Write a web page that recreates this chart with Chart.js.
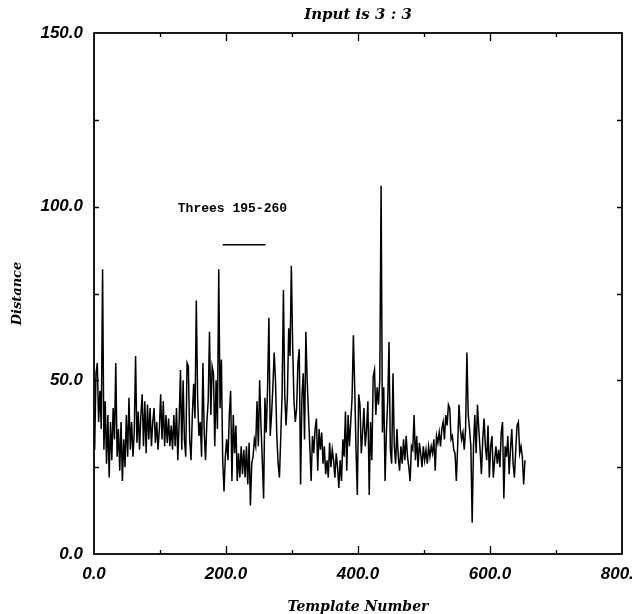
<!DOCTYPE html>
<html>
<head>
<meta charset="utf-8">
<script src="https://cdn.jsdelivr.net/npm/chart.js@4.4.0/dist/chart.umd.min.js"></script>
<style>
  html, body { margin: 0; padding: 0; background: #fff; }
</style>
</head>
<body>
<canvas id="chart" width="632" height="614"></canvas>
<script>
// template numbers: every 2nd template, starting at 1
var firstTemplate = 1;
var templateStep = 2;

var distances = [
    // 1 - 101
    30, 52, 55, 38, 47, 36, 82, 30, 44, 26, 40, 22, 38, 27, 42, 33, 55, 28, 36, 24,
    38, 21, 33, 25, 40, 28, 45, 30, 38, 28, 35, 57, 32, 41, 30, 40, 46, 31, 44, 29,
    43, 33, 42, 31, 38, 42, 32, 38, 30, 36, 46,
    // 103 - 213
    33, 44, 31, 40, 32, 39, 31, 37, 30, 40, 31, 42, 27, 38, 53, 30, 50, 33, 28, 55,
    54, 33, 27, 40, 49, 39, 73, 45, 34, 38, 28, 55, 35, 27, 38, 44, 64, 40, 54, 52,
    31, 50, 36, 82, 42, 56, 27, 18, 28, 33, 27, 40, 47, 21, 40, 29,
    // 215 - 315
    37, 21, 29, 22, 31, 23, 30, 22, 31, 20, 32, 14, 26, 28, 33, 31, 44, 31, 50, 37,
    27, 16, 45, 35, 48, 68, 34, 40, 48, 58, 50, 34, 26, 22, 34, 46, 76, 46, 37, 45,
    65, 57, 83, 60, 44, 38, 42, 55, 59, 20, 45,
    // 317 - 419
    52, 33, 64, 50, 40, 31, 21, 34, 29, 36, 39, 24, 36, 30, 35, 26, 31, 23, 27, 22,
    32, 25, 30, 27, 22, 29, 25, 19, 27, 21, 33, 28, 41, 24, 40, 31, 38, 45, 63, 48,
    30, 17, 46, 43, 29, 35, 42, 31, 36, 44, 17, 38,
    // 421 - 523
    27, 51, 53, 40, 48, 43, 50, 106, 35, 48, 21, 35, 44, 61, 30, 26, 52, 31, 26, 36,
    28, 24, 31, 26, 33, 27, 34, 28, 25, 21, 31, 30, 40, 27, 34, 25, 32, 29, 25, 31,
    27, 30, 26, 31, 28, 31, 29, 33, 24, 34, 32, 35,
    // 525 - 653
    31, 36, 38, 33, 40, 37, 43, 42, 33, 34, 30, 29, 21, 31, 43, 36, 33, 35, 30, 36,
    58, 40, 36, 31, 9, 31, 40, 29, 43, 36, 30, 23, 33, 39, 31, 27, 37, 22, 31, 34,
    22, 27, 31, 26, 30, 25, 35, 38, 16, 31, 28, 34, 23, 30, 36, 26, 22, 30, 37, 38,
    29, 31, 28, 20, 27
];

// the "Threes" marker
var markerRange = [195, 260];
var markerLevel = 89;
var markerLabel = 'Threes 195-260';

var xTickMarks = [100, 200, 300, 400, 500, 600, 700];
var yTickMarks = [25, 50, 75, 100, 125];

var points = distances.map(function (d, i) {
    return { x: firstTemplate + i * templateStep, y: d };
});

var framePlugin = {
    id: 'frame',
    afterDraw: function (chart) {
        var ctx = chart.ctx;
        var a = chart.chartArea;
        var xs = chart.scales.x;
        var ys = chart.scales.y;
        ctx.save();
        ctx.strokeStyle = '#000';
        ctx.lineWidth = 1.8;
        ctx.strokeRect(a.left, a.top, a.right - a.left, a.bottom - a.top);

        // inward ticks on all four sides
        ctx.lineWidth = 1.3;
        ctx.beginPath();
        xTickMarks.forEach(function (v) {
            var px = Math.round(xs.getPixelForValue(v)) + 0.5;
            var len = v % 200 === 0 ? 8 : 4;
            ctx.moveTo(px, a.bottom); ctx.lineTo(px, a.bottom - len);
            ctx.moveTo(px, a.top); ctx.lineTo(px, a.top + len);
        });
        yTickMarks.forEach(function (v) {
            var py = Math.round(ys.getPixelForValue(v)) + 0.5;
            var len = 5;
            ctx.moveTo(a.left, py); ctx.lineTo(a.left + len, py);
            ctx.moveTo(a.right, py); ctx.lineTo(a.right - len, py);
        });
        ctx.stroke();

        ctx.fillStyle = '#000';
        ctx.textAlign = 'center';
        ctx.textBaseline = 'middle';
        ctx.font = 'italic bold 15px "DejaVu Serif"';
        ctx.fillText('Input is 3 : 3', (a.left + a.right) / 2, 15);

        ctx.font = 'italic bold 14px "DejaVu Serif"';
        ctx.fillText('Template Number', (a.left + a.right) / 2, 607);

        ctx.save();
        ctx.translate(18, (a.top + a.bottom) / 2);
        ctx.rotate(-Math.PI / 2);
        ctx.font = 'italic bold 13px "DejaVu Serif"';
        ctx.fillText('Distance', 0, 0);
        ctx.restore();

        ctx.textAlign = 'left';
        ctx.font = 'bold 13px "Liberation Mono"';
        ctx.fillText(markerLabel, xs.getPixelForValue(127), ys.getPixelForValue(99.3));
        ctx.restore();
    }
};

var tickFont = { family: 'Liberation Sans', size: 17, weight: 'bold', style: 'italic' };

new Chart(document.getElementById('chart'), {
    type: 'line',
    data: {
        datasets: [{
            data: points,
            borderColor: '#000',
            borderWidth: 1.5,
            pointRadius: 0,
            tension: 0
        }, {
            data: [{ x: markerRange[0], y: markerLevel }, { x: markerRange[1], y: markerLevel }],
            borderColor: '#000',
            borderWidth: 1.5,
            pointRadius: 0
        }]
    },
    options: {
        responsive: false,
        animation: false,
        layout: { padding: { top: 33, right: 10, left: 0, bottom: 0 } },
        plugins: { legend: { display: false }, tooltip: { enabled: false } },
        scales: {
            x: {
                type: 'linear',
                min: 0,
                max: 800,
                grid: { display: false, drawTicks: false },
                border: { display: false },
                ticks: {
                    stepSize: 200,
                    maxRotation: 0,
                    autoSkip: false,
                    padding: 10,
                    color: '#000',
                    font: tickFont,
                    callback: function (v) { return v.toFixed(1); }
                },
                afterFit: function (s) { s.height = 60; s.paddingLeft = 0; s.paddingRight = 0; }
            },
            y: {
                min: 0,
                max: 150,
                grid: { display: false, drawTicks: false },
                border: { display: false },
                ticks: {
                    stepSize: 50,
                    padding: 11,
                    color: '#000',
                    font: tickFont,
                    callback: function (v) { return v.toFixed(1); }
                },
                afterFit: function (s) { s.width = 94; s.paddingTop = 0; s.paddingBottom = 0; }
            }
        }
    },
    plugins: [framePlugin]
});
</script>
</body>
</html>
